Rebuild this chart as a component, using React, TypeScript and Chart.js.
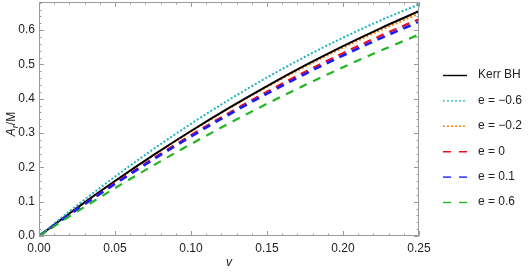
import React, { useEffect, useRef } from "react";
import { Chart, registerables } from "chart.js";

Chart.register(...registerables);

const vValues = [0, 0.025, 0.05, 0.075, 0.1, 0.125, 0.15, 0.175, 0.2, 0.225, 0.25];
const kerr = [0, 0.082, 0.1603, 0.235, 0.306, 0.3733, 0.437, 0.497, 0.5534, 0.6061, 0.6551];
const eM06 = [0, 0.0889, 0.173, 0.2524, 0.327, 0.3969, 0.462, 0.5224, 0.578, 0.6289, 0.675];
const eM02 = [0, 0.082, 0.1601, 0.2345, 0.305, 0.3717, 0.4346, 0.4937, 0.549, 0.6005, 0.6481];
const e0 = [0, 0.0787, 0.1539, 0.2257, 0.294, 0.3589, 0.4204, 0.4784, 0.533, 0.5842, 0.6319];
const e01 = [0, 0.0775, 0.1517, 0.2225, 0.29, 0.3541, 0.4148, 0.4722, 0.5262, 0.5768, 0.6241];
const e06 = [0, 0.0711, 0.1395, 0.2051, 0.268, 0.3281, 0.3854, 0.44, 0.4918, 0.5408, 0.5871];
const seriesLabels = ["Kerr BH", "e = \u22120.6", "e = \u22120.2", "e = 0", "e = 0.1", "e = 0.6"];
const xTicks = [0, 0.05, 0.1, 0.15, 0.2, 0.25];
const yTicks = [0, 0.1, 0.2, 0.3, 0.4, 0.5, 0.6];

const styles = [
  { color: "#000000", dash: [] as number[], width: 2 },
  { color: "#1eb5c0", dash: [2, 2], width: 2 },
  { color: "#ff8000", dash: [2, 2], width: 2 },
  { color: "#e8101a", dash: [8, 6], width: 2.2 },
  { color: "#1a1aff", dash: [8, 6], width: 2.6 },
  { color: "#22b522", dash: [8, 7], width: 2.2 },
];

const FONT = "'Liberation Sans', Arial, sans-serif";

export default function App() {
  const ref = useRef<HTMLCanvasElement | null>(null);
  useEffect(() => {
    document.body.style.margin = "0";
    const all = [kerr, eM06, eM02, e0, e01, e06];
    const datasets = all.map((arr, i) => ({
      label: seriesLabels[i],
      data: arr.map((y, j) => ({ x: vValues[j], y })),
      borderColor: styles[i].color,
      borderDash: styles[i].dash,
      borderWidth: styles[i].width,
      pointRadius: 0,
      fill: false,
      cubicInterpolationMode: "monotone" as const,
    }));
    const order = [5, 4, 3, 1, 0, 2];
    const ds = order.map((i) => datasets[i]);

    const framePlugin = {
      id: "frame",
      afterDatasetsDraw(chart: any) {
        const { ctx, chartArea, scales } = chart;
        const { left, right, top, bottom } = chartArea;
        ctx.save();
        ctx.strokeStyle = "#9a9a9a";
        ctx.lineWidth = 1;
        ctx.beginPath();
        ctx.rect(left + 0.5, top + 0.5, right - left - 1, bottom - top - 1);
        ctx.stroke();
        ctx.beginPath();
        for (let k = 0; k <= 25; k++) {
          const v = k / 100;
          const px = Math.round(scales.x.getPixelForValue(v)) + 0.5;
          const len = k % 5 === 0 ? 5 : 2.5;
          ctx.moveTo(px, bottom);
          ctx.lineTo(px, bottom - len);
          ctx.moveTo(px, top);
          ctx.lineTo(px, top + len);
        }
        for (let k = 0; k <= 34; k++) {
          const v = k / 50;
          const py = Math.round(scales.y.getPixelForValue(v)) + 0.5;
          if (py < top) continue;
          const len = k % 5 === 0 ? 5 : 2.5;
          ctx.moveTo(left, py);
          ctx.lineTo(left + len, py);
          ctx.moveTo(right, py);
          ctx.lineTo(right - len, py);
        }
        ctx.stroke();

        ctx.fillStyle = "#222";
        ctx.font = `italic 12px ${FONT}`;
        ctx.textAlign = "center";
        ctx.textBaseline = "middle";
        ctx.fillText("v", (left + right) / 2, 263);
        ctx.save();
        ctx.translate(12, 124);
        ctx.rotate(-Math.PI / 2);
        ctx.textAlign = "left";
        ctx.font = `italic 12px ${FONT}`;
        const wA = ctx.measureText("A").width;
        ctx.font = `italic 9px ${FONT}`;
        const wr = ctx.measureText("r").width;
        ctx.font = `12px ${FONT}`;
        const wM = ctx.measureText("/M").width;
        let x0 = -(wA + wr + wM) / 2;
        ctx.font = `italic 12px ${FONT}`;
        ctx.fillText("A", x0, 0);
        x0 += wA;
        ctx.font = `italic 9px ${FONT}`;
        ctx.fillText("r", x0, 3);
        x0 += wr;
        ctx.font = `12px ${FONT}`;
        ctx.fillText("/M", x0, 0);
        ctx.restore();

        const lx0 = 443, lx1 = 467, tx = 478;
        seriesLabels.forEach((lab, i) => {
          const y = 75 + i * 25.4;
          ctx.beginPath();
          ctx.strokeStyle = styles[i].color;
          ctx.lineWidth = 1.4;
          ctx.setLineDash(styles[i].dash.length ? (styles[i].dash[0] > 3 ? [8, 8] : [2, 2]) : []);
          ctx.moveTo(lx0, y + 0.5);
          ctx.lineTo(lx1, y + 0.5);
          ctx.stroke();
          ctx.setLineDash([]);
          ctx.fillStyle = "#222";
          ctx.font = `12px ${FONT}`;
          ctx.textAlign = "left";
          ctx.textBaseline = "middle";
          ctx.fillText(lab, tx, y);
        });
        ctx.restore();
      },
    };

    const chart = new Chart(ref.current!, {
      type: "line",
      data: { datasets: ds as any },
      options: {
        animation: false,
        responsive: false,
        layout: { padding: { top: 2, right: 110, left: 0, bottom: 0 } },
        plugins: { legend: { display: false }, tooltip: { enabled: false } },
        scales: {
          x: {
            type: "linear",
            min: 0,
            max: 0.25,
            afterFit: (s: any) => { s.height = 40; s.paddingLeft = 0; s.paddingRight = 0; },
            afterBuildTicks: (s: any) => { s.ticks = xTicks.map((v) => ({ value: v })); },
            grid: { display: false, drawTicks: false },
            border: { display: false },
            ticks: {
              padding: 5,
              color: "#222",
              font: { family: FONT, size: 12 },
              maxRotation: 0,
              callback: (v: any) => Number(v).toFixed(2),
            },
          },
          y: {
            type: "linear",
            min: 0,
            max: 0.682,
            afterFit: (s: any) => { s.width = 39; s.paddingTop = 0; s.paddingBottom = 0; },
            afterBuildTicks: (s: any) => { s.ticks = yTicks.map((v) => ({ value: v })); },
            grid: { display: false, drawTicks: false },
            border: { display: false },
            ticks: {
              padding: 4,
              color: "#222",
              font: { family: FONT, size: 12 },
              callback: (v: any) => Number(v).toFixed(1),
            },
          },
        },
      },
      plugins: [framePlugin],
    });
    return () => chart.destroy();
  }, []);
  return <canvas ref={ref} width={529} height={276} style={{ display: "block" }} />;
}
